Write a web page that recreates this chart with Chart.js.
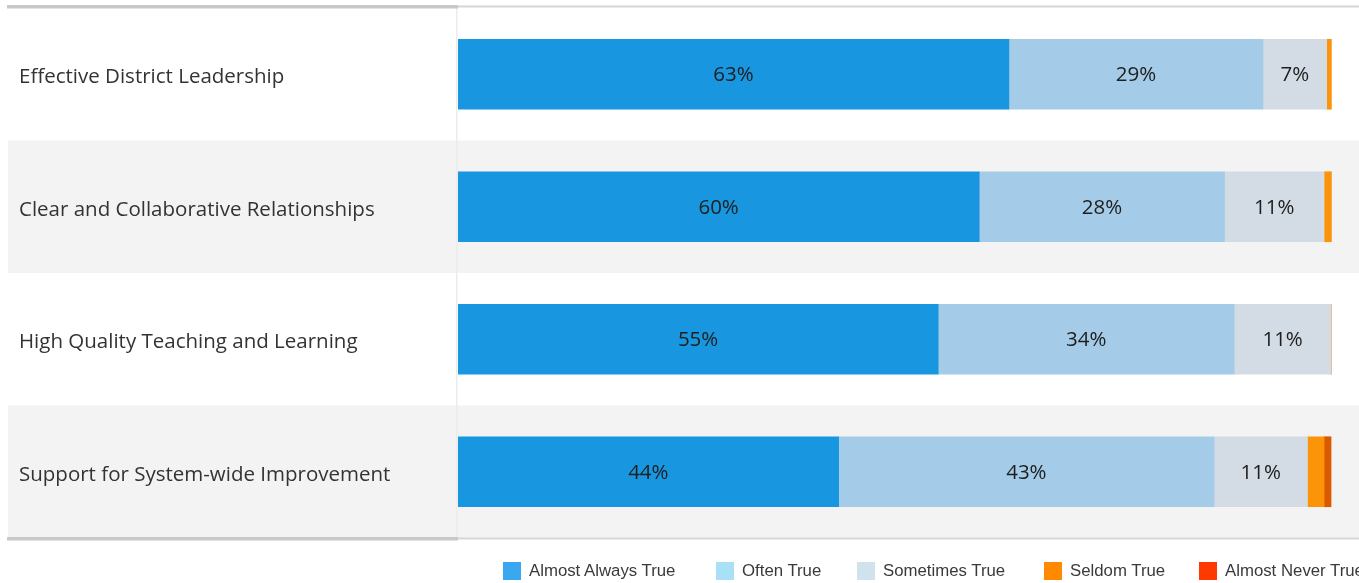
<!DOCTYPE html>
<html><head><meta charset="utf-8">
<script src="https://cdn.jsdelivr.net/npm/chart.js@4.4.1/dist/chart.umd.min.js"></script>
<style>
html,body{margin:0;padding:0;background:#fff;width:1359px;height:583px;overflow:hidden;}
#wrap{position:relative;width:1359px;height:583px;overflow:hidden;}
canvas{position:absolute;left:0;top:0;}
#legend{position:absolute;left:0;top:561px;width:1359px;height:20px;white-space:nowrap;font-family:"Liberation Sans",Arial,sans-serif;font-size:16.8px;color:#3a3a3a;}
#legend .it{position:absolute;top:0;display:flex;align-items:center;}
#legend .sw{width:18px;height:18px;margin-right:8px;}
</style></head>
<body><div id="wrap"><canvas id="c" width="1359" height="583"></canvas><div id="legend"></div></div>
<script>
const categories = ["Effective District Leadership","Clear and Collaborative Relationships","High Quality Teaching and Learning","Support for System-wide Improvement"];
const seriesNames = ["Almost Always True","Often True","Sometimes True","Seldom True","Almost Never True"];
const almostAlways = [63.1, 59.7, 55.0, 43.6];
const oftenTrue = [29.1, 28.1, 33.9, 43.0];
const sometimesTrue = [7.3, 11.4, 11.1, 10.7];
const seldomTrue = [0.5, 0.8, 0, 1.9];
const almostNever = [0, 0, 0, 0.8];
const barColors = ["#1897e0","#a4cce8","#d3dbe4","#fb9507","#d95a00"];
const legendColors = ["#3aa8f0","#a8e0f5","#cfe2ee","#ff8a00","#ff3a00"];
const legendLeft = [503, 716, 857, 1044, 1199];

const lg = document.getElementById('legend');
seriesNames.forEach((n,i)=>{
  const d=document.createElement('div');d.className='it';d.style.left=legendLeft[i]+'px';
  d.innerHTML='<div class="sw" style="background:'+legendColors[i]+'"></div><span>'+n+'</span>';
  lg.appendChild(d);
});

const FONT = '"Open Sans", sans-serif';
const bgPlugin = {
  id:'bg',
  beforeDraw(chart){
    const {ctx, chartArea:a, scales:{y}} = chart;
    ctx.save();
    ctx.fillStyle='#fff';ctx.fillRect(0,0,chart.width,chart.height);
    const step = (a.bottom-a.top)/categories.length;
    categories.forEach((c,i)=>{
      const cy=y.getPixelForValue(i);
      if(i%2===1){ctx.fillStyle='#f3f3f3';ctx.fillRect(8,cy-step/2,chart.width-8,step);}
    });
    ctx.fillStyle='#ececec';ctx.fillRect(a.left-2,a.top,1.5,a.bottom-a.top);
    ctx.fillStyle='#c8c8c8';
    ctx.fillRect(7,a.top-3,a.left-7,3.5);
    ctx.fillRect(7,a.bottom-1,a.left-7,3.5);
    ctx.fillStyle='#d6d6d6';
    ctx.fillRect(a.left,a.top-2.5,chart.width-a.left,2);
    ctx.fillRect(a.left,a.bottom-0.5,chart.width-a.left,2);
    ctx.fillStyle='#333';
    ctx.font='20.5px '+FONT;ctx.textBaseline='middle';ctx.textAlign='left';
    categories.forEach((c,i)=>{ctx.fillText(c,19,y.getPixelForValue(i)+3);});
    ctx.restore();
  },
  afterDatasetsDraw(chart){
    const ctx=chart.ctx;ctx.save();
    ctx.font='20.5px '+FONT;ctx.fillStyle='#1e1e1e';ctx.textAlign='center';ctx.textBaseline='middle';
    chart.data.datasets.forEach((ds,di)=>{
      if(di>2)return;
      chart.getDatasetMeta(di).data.forEach((el,j)=>{
        const v=ds.data[j]; if(v<3)return;
        const p=el.getProps(['x','y','base']);
        ctx.fillText(Math.round(v)+'%',(p.x+p.base)/2,p.y+1);
      });
    });
    ctx.restore();
  }
};

new Chart(document.getElementById('c'),{
  type:'bar',
  data:{labels:categories,datasets:[almostAlways,oftenTrue,sometimesTrue,seldomTrue,almostNever].map((d,i)=>({
    label:seriesNames[i],data:d,backgroundColor:barColors[i],borderWidth:0,barThickness:70
  }))},
  options:{
    indexAxis:'y',responsive:false,animation:false,
    layout:{padding:{left:458,top:8,right:0,bottom:45}},
    plugins:{legend:{display:false},tooltip:{enabled:false}},
    scales:{
      x:{stacked:true,min:0,max:103.2,display:false},
      y:{stacked:true,display:false}
    }
  },
  plugins:[bgPlugin]
});
</script></body></html>
